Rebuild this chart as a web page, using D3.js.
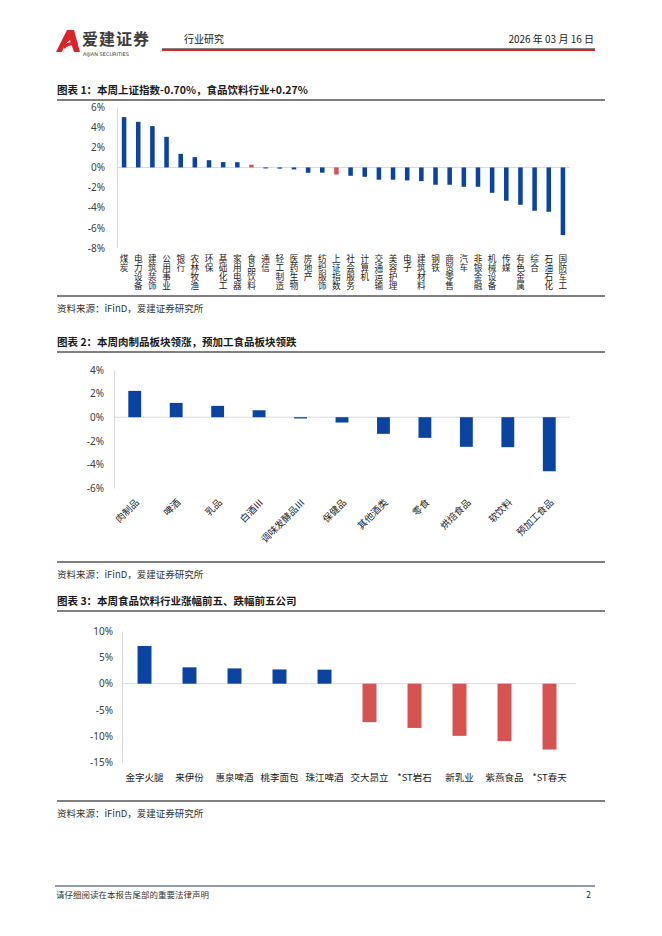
<!DOCTYPE html>
<html>
<head>
<meta charset="utf-8">
<script src="https://cdn.jsdelivr.net/npm/d3@7/dist/d3.min.js"></script>
<style>
  body { margin: 0; background: #fff; }
  svg { display: block; font-family: "Noto Sans CJK SC", "Noto Sans", sans-serif; }
</style>
</head>
<body>
<div class="page"></div>
<script>
const W = 662, H = 936;
const BLUE = "#0b44a0", RED = "#d55451";

// chart 1: 申万一级行业周涨跌
const cat1 = ["煤炭","电力设备","建筑装饰","公用事业","银行","农林牧渔","环保","基础化工","家用电器","食品饮料",
  "通信","轻工制造","医药生物","房地产","纺织服饰","上证指数","社会服务","计算机","交通运输","美容护理",
  "电子","建筑材料","钢铁","商贸零售","汽车","非银金融","机械设备","传媒","有色金属","综合","石油石化","国防军工"];
const val1 = [5.0,4.53,4.1,3.04,1.35,1.02,0.72,0.53,0.52,0.27,
  -0.1,-0.12,-0.2,-0.53,-0.52,-0.70,-0.83,-0.93,-1.22,-1.22,
  -1.29,-1.36,-1.72,-1.72,-1.92,-1.92,-2.52,-3.31,-3.71,-4.3,-4.4,-6.72];
const red1 = ["食品饮料","上证指数"];
const ticks1 = [6,4,2,0,-2,-4,-6,-8];

// chart 2: 食品饮料子板块
const cat2 = ["肉制品","啤酒","乳品","白酒Ⅲ","调味发酵品Ⅲ","保健品","其他酒类","零食","烘焙食品","软饮料","预加工食品"];
const val2 = [2.23,1.21,0.96,0.59,-0.11,-0.45,-1.41,-1.75,-2.51,-2.54,-4.58];
const ticks2 = [4,2,0,-2,-4,-6];

// chart 3: 涨跌幅前五公司
const cat3 = ["金字火腿","来伊份","惠泉啤酒","桃李面包","珠江啤酒","交大昂立","*ST岩石","新乳业","紫燕食品","*ST春天"];
const val3 = [7.15,3.1,2.9,2.7,2.66,-7.3,-8.4,-9.9,-10.9,-12.5];
const ticks3 = [10,5,0,-5,-10,-15];

const svg = d3.select(".page").append("svg").attr("width", W).attr("height", H);

// ---- header
svg.append("path")
  .attr("d", "M56,52 L67,30 L74,30 L80,52 L74,52 L70,40 Q64,44 62,52 Z")
  .attr("fill", "#d9252a");
svg.append("path")
  .attr("d", "M63,46 Q69,41 77,42 L78,45 Q70,44 64,49 Z")
  .attr("fill", "#d9252a");
svg.append("text").attr("x", 82).attr("y", 45).attr("font-size", 16).attr("font-weight", "bold")
  .attr("fill", "#3c3c3c").attr("letter-spacing", 1).text("爱建证券");
svg.append("text").attr("x", 83).attr("y", 56).attr("font-size", 5).attr("fill", "#3c3c3c")
  .attr("font-family", "DejaVu Sans").text("AIJIAN SECURITIES");
svg.append("text").attr("x", 184).attr("y", 43).attr("font-size", 10).attr("fill", "#222").text("行业研究");
svg.append("text").attr("x", 594).attr("y", 43).attr("font-size", 10).attr("fill", "#222")
  .attr("text-anchor", "end").text("2026 年 03 月 16 日");
svg.append("line").attr("x1", 162).attr("x2", 595).attr("y1", 48.5).attr("y2", 48.5)
  .attr("stroke", "#333").attr("stroke-width", 0.6);
svg.append("line").attr("x1", 162).attr("x2", 595).attr("y1", 50).attr("y2", 50)
  .attr("stroke", "#d9252a").attr("stroke-width", 1.8);

// ---- footer
svg.append("line").attr("x1", 55).attr("x2", 595).attr("y1", 886).attr("y2", 886)
  .attr("stroke", "#1f3864").attr("stroke-width", 1);
svg.append("text").attr("x", 56).attr("y", 898).attr("font-size", 8.5).attr("fill", "#333")
  .text("请仔细阅读在本报告尾部的重要法律声明");
svg.append("text").attr("x", 591).attr("y", 898).attr("font-size", 8.5).attr("fill", "#333")
  .attr("text-anchor", "end").text("2");

function frame(title, yTitle, yBottom) {
  svg.append("text").attr("x", 57).attr("y", yTitle).attr("font-size", 10.5).attr("font-weight", "bold")
    .attr("fill", "#1a1a1a").text(title);
  svg.append("line").attr("x1", 57).attr("x2", 605).attr("y1", yTitle + 6).attr("y2", yTitle + 6)
    .attr("stroke", "#000").attr("stroke-width", 1);
  svg.append("line").attr("x1", 57).attr("x2", 605).attr("y1", yBottom).attr("y2", yBottom)
    .attr("stroke", "#000").attr("stroke-width", 1);
  svg.append("text").attr("x", 57).attr("y", yBottom + 16).attr("font-size", 9.5).attr("fill", "#333")
    .text("资料来源：iFinD，爱建证券研究所");
}

function yAxis(y, ticks, x0, pad, fmt) {
  const g = svg.append("g").attr("transform", `translate(${x0},0)`)
    .call(d3.axisLeft(y).tickValues(ticks).tickSize(0).tickPadding(pad).tickFormat(fmt));
  g.select(".domain").attr("stroke", "#d9d9d9");
  g.selectAll("text").attr("font-size", 10).attr("fill", "#404040")
    .attr("font-family", "Noto Sans, sans-serif");
  return g;
}

// ---- chart 1
frame("图表 1：本周上证指数-0.70%，食品饮料行业+0.27%", 94, 296);
{
  const x = d3.scaleBand().domain(cat1).range([117, 570]).paddingInner(0.68).paddingOuter(0.34);
  const y = d3.scaleLinear().domain([-8, 6]).range([248, 107]);
  yAxis(y, ticks1, 117, 12, d => d + "%");
  svg.append("line").attr("x1", 117).attr("x2", 570).attr("y1", y(0)).attr("y2", y(0))
    .attr("stroke", "#d9d9d9");
  svg.selectAll(".b1").data(cat1).enter().append("rect")
    .attr("x", d => x(d)).attr("width", x.bandwidth())
    .attr("y", (d, i) => y(Math.max(0, val1[i])))
    .attr("height", (d, i) => Math.abs(y(val1[i]) - y(0)))
    .attr("fill", d => red1.includes(d) ? RED : BLUE);
  // vertical labels: one upright character per line
  const lab = svg.selectAll(".l1").data(cat1).enter().append("text")
    .attr("font-size", 8.6).attr("fill", "#222").attr("text-anchor", "middle");
  lab.each(function(d) {
    const t = d3.select(this);
    [...d].forEach((c, k) => {
      t.append("tspan").attr("x", x(d) + x.bandwidth() / 2).attr("y", 262 + k * 9).text(c);
    });
  });
}

// ---- chart 2
frame("图表 2：本周肉制品板块领涨，预加工食品板块领跌", 346, 562);
{
  const x = d3.scaleBand().domain(cat2).range([114, 570]).paddingInner(0.69).paddingOuter(0.345);
  const y = d3.scaleLinear().domain([-6, 4]).range([488, 370]);
  yAxis(y, ticks2, 114, 10, d => d + "%");
  svg.append("line").attr("x1", 114).attr("x2", 570).attr("y1", y(0)).attr("y2", y(0))
    .attr("stroke", "#d9d9d9");
  svg.selectAll(".b2").data(cat2).enter().append("rect")
    .attr("x", d => x(d)).attr("width", x.bandwidth())
    .attr("y", (d, i) => y(Math.max(0, val2[i])))
    .attr("height", (d, i) => Math.abs(y(val2[i]) - y(0)))
    .attr("fill", BLUE);
  svg.selectAll(".l2").data(cat2).enter().append("text")
    .attr("font-size", 9.5).attr("fill", "#222").attr("text-anchor", "end")
    .attr("transform", d => `translate(${x(d) + x.bandwidth() / 2 + 5},${503}) rotate(-45)`)
    .text(d => d);
}

// ---- chart 3
frame("图表 3：本周食品饮料行业涨幅前五、跌幅前五公司", 605, 801);
{
  const x = d3.scaleBand().domain(cat3).range([122, 572]).paddingInner(0.69).paddingOuter(0.345);
  const y = d3.scaleLinear().domain([-15, 10]).range([762.7, 631]);
  yAxis(y, ticks3, 122, 9, d => d + "%");
  svg.append("line").attr("x1", 122).attr("x2", 576).attr("y1", y(0)).attr("y2", y(0))
    .attr("stroke", "#d9d9d9");
  svg.selectAll(".b3").data(cat3).enter().append("rect")
    .attr("x", d => x(d)).attr("width", x.bandwidth())
    .attr("y", (d, i) => y(Math.max(0, val3[i])))
    .attr("height", (d, i) => Math.abs(y(val3[i]) - y(0)))
    .attr("fill", (d, i) => val3[i] >= 0 ? BLUE : RED);
  svg.selectAll(".l3").data(cat3).enter().append("text")
    .attr("font-size", 9.5).attr("fill", "#222").attr("text-anchor", "middle")
    .attr("x", d => x(d) + x.bandwidth() / 2).attr("y", 781)
    .text(d => d);
}
</script>
</body>
</html>
